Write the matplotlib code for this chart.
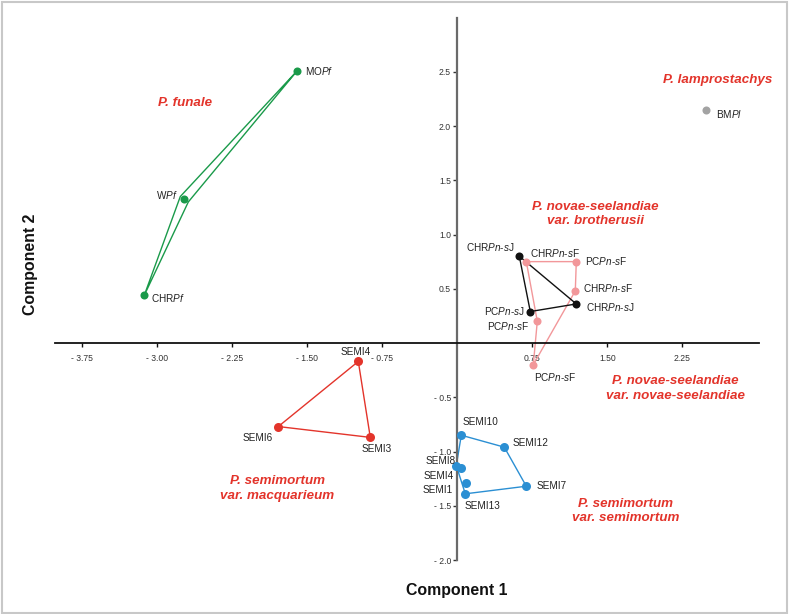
import matplotlib
matplotlib.use("Agg")
import matplotlib.pyplot as plt
from matplotlib.patches import Rectangle
from matplotlib.ticker import FixedLocator, FuncFormatter

plt.rcParams["font.family"] = ["Liberation Sans", "DejaVu Sans"]
plt.rcParams["mathtext.fontset"] = "custom"
plt.rcParams["mathtext.rm"] = "Liberation Sans"
plt.rcParams["mathtext.it"] = "Liberation Sans:italic"

# Scores on the first two components, per taxon
funale_names = ["MO$\\mathit{Pf}$", "W$\\mathit{Pf}$", "CHR$\\mathit{Pf}$"]
funale_x = [-1.60, -2.73, -3.13]
funale_y = [2.51, 1.33, 0.44]
funale_hull_x = [-1.60, -2.77, -3.13, -2.69, -1.60]
funale_hull_y = [2.51, 1.35, 0.44, 1.30, 2.51]

lampro_names = ["BM$\\mathit{Pl}$"]
lampro_x = [2.49]
lampro_y = [2.15]

broth_names = ["CHR$\\mathit{Pn}$-$\\mathit{s}$J", "CHR$\\mathit{Pn}$-$\\mathit{s}$J",
               "PC$\\mathit{Pn}$-$\\mathit{s}$J"]
broth_x = [0.62, 1.19, 0.73]
broth_y = [0.80, 0.36, 0.29]
broth_hull = [0, 1, 2, 0]

novae_names = ["CHR$\\mathit{Pn}$-$\\mathit{s}$F", "PC$\\mathit{Pn}$-$\\mathit{s}$F",
               "CHR$\\mathit{Pn}$-$\\mathit{s}$F", "PC$\\mathit{Pn}$-$\\mathit{s}$F",
               "PC$\\mathit{Pn}$-$\\mathit{s}$F"]
novae_x = [0.69, 1.19, 1.18, 0.80, 0.76]
novae_y = [0.75, 0.75, 0.48, 0.20, -0.20]
novae_hull = [0, 1, 2, 4, 3, 0]

macq_names = ["SEMI4", "SEMI6", "SEMI3"]
macq_x = [-0.99, -1.79, -0.87]
macq_y = [-0.17, -0.77, -0.87]
macq_hull = [0, 1, 2, 0]

semi_names = ["SEMI10", "SEMI12", "SEMI7", "SEMI13", "SEMI1", "SEMI4", "SEMI8"]
semi_x = [0.04, 0.47, 0.69, 0.08, 0.09, 0.04, -0.01]
semi_y = [-0.85, -0.96, -1.32, -1.39, -1.29, -1.15, -1.13]
semi_hull = [0, 1, 2, 3, 6, 0]

x_ticks = [-3.75, -3.00, -2.25, -1.50, -0.75, 0.75, 1.50, 2.25]
y_ticks = [2.5, 2.0, 1.5, 1.0, 0.5, -0.5, -1.0, -1.5, -2.0]

# label offsets in pixels (dx, dy up), and alignment
funale_off = [(8, 0, "left"), (-7, 4, "right"), (7, -2.5, "left")]
lampro_off = [(10, -4, "left")]
broth_off = [(-5, 9, "right"), (10, -3, "left"), (-6, 1, "right")]
novae_off = [(4, 9, "left"), (9, 1, "left"), (8, 2.5, "left"), (-8, -5, "right"), (1, -12, "left")]
macq_off = [(-3, 9, "center"), (-5, -11, "right"), (6, -12, "center")]
semi_off = [(1, 13, "left"), (8, 4, "left"), (10, 0, "left"), (-1, -12, "left"),
            (-13, -7, "right"), (-7, -8, "right"), (-1, 5, "right")]

RED = "#e3342b"

fig = plt.figure(figsize=(7.9, 6.14), dpi=100)
ax = fig.add_axes([55.3 / 790, 54 / 614, 704 / 790, 542.5 / 614])
ax.set_xlim(-4.02, 3.02)
ax.set_ylim(-2.0, 3.0)

for side in ["top", "right"]:
    ax.spines[side].set_visible(False)
ax.spines["left"].set_position(("data", 0))
ax.spines["bottom"].set_position(("data", 0))
ax.spines["left"].set_color("#6a6a6a")
ax.spines["left"].set_linewidth(1.6)
ax.spines["bottom"].set_color("#111111")
ax.spines["bottom"].set_linewidth(1.3)
ax.patch.set_visible(False)

ax.xaxis.set_major_locator(FixedLocator(x_ticks))
ax.yaxis.set_major_locator(FixedLocator(y_ticks))
ax.xaxis.set_major_formatter(FuncFormatter(lambda v, p: f"- {abs(v):.2f}" if v < 0 else f"{v:.2f}"))
ax.yaxis.set_major_formatter(FuncFormatter(lambda v, p: f"- {abs(v):.1f}" if v < 0 else f"{v:.1f}"))
ax.tick_params(axis="x", direction="out", length=3, width=1, pad=5, labelsize=6.2,
               labelcolor="#333333", color="#111111")
ax.tick_params(axis="y", direction="out", length=3, width=1, pad=1.5, labelsize=6.2,
               labelcolor="#333333", color="#333333")


def draw_group(xs, ys, names, offs, color, size, hull=None, hx=None, hy=None):
    if hull is not None:
        hx = [xs[i] for i in hull]
        hy = [ys[i] for i in hull]
    if hx is not None:
        ax.plot(hx, hy, color=color, lw=1.0, zorder=2)
    ax.plot(xs, ys, "o", color=color, ms=size, mec="none", zorder=3)
    for x, y, name, (dx, dy, ha) in zip(xs, ys, names, offs):
        ax.annotate(name, (x, y), xytext=(dx * 0.72, dy * 0.72), textcoords="offset points",
                    ha=ha, va="center", fontsize=7.2, color="#222222", zorder=4)


draw_group(funale_x, funale_y, funale_names, funale_off, "#1a9a4a", 5.8,
           hx=funale_hull_x, hy=funale_hull_y)
draw_group(lampro_x, lampro_y, lampro_names, lampro_off, "#a3a3a3", 5.8)
draw_group(novae_x, novae_y, novae_names, novae_off, "#f2979a", 5.8, hull=novae_hull)
draw_group(broth_x, broth_y, broth_names, broth_off, "#111111", 5.8, hull=broth_hull)
draw_group(macq_x, macq_y, macq_names, macq_off, "#e3342b", 6.5, hull=macq_hull)
draw_group(semi_x, semi_y, semi_names, semi_off, "#2b8fd3", 6.5, hull=semi_hull)

# taxon labels
group_font = dict(color=RED, fontsize=9.6, fontweight="bold", fontstyle="italic",
                  ha="center", va="center", linespacing=1.25)
ax.text(-2.72, 2.215, "P. funale", **group_font)
ax.text(2.60, 2.42, "P. lamprostachys", **group_font)
ax.text(1.38, 1.19, "P. novae-seelandiae\nvar. brotherusii", **group_font)
ax.text(2.18, -0.42, "P. novae-seelandiae\nvar. novae-seelandiae", **group_font)
ax.text(-1.80, -1.34, "P. semimortum\nvar. macquarieum", **group_font)
ax.text(1.68, -1.545, "P. semimortum\nvar. semimortum", **group_font)

fig.text(457 / 790, 1 - 590 / 614, "Component 1", ha="center", va="center",
         fontsize=11.4, fontweight="bold", color="#111111")
fig.text(30 / 790, 1 - 264 / 614, "Component 2", ha="center", va="center",
         rotation=90, fontsize=11.4, fontweight="bold", color="#111111")

fig.patches.append(Rectangle((0.002, 0.002), 0.994, 0.995, transform=fig.transFigure,
                             fill=False, ec="#c8c8c8", lw=1.5))

fig.savefig("out.png", dpi=100)
